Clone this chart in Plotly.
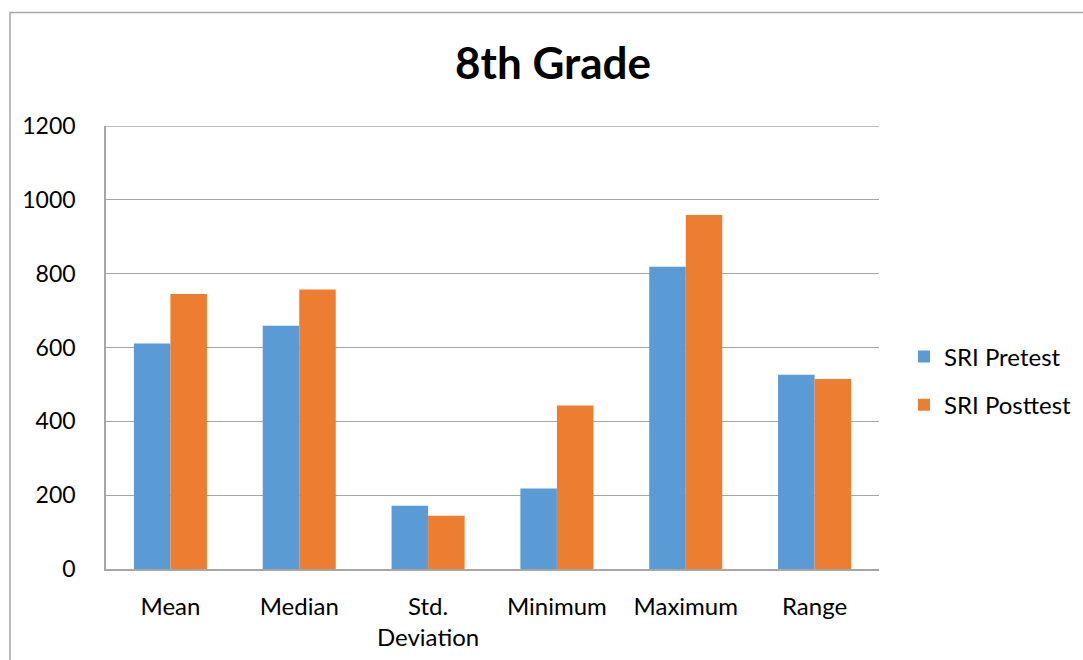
import plotly.graph_objects as go

# Summary statistics for 8th grade SRI scores
categories = ["Mean", "Median", "Std.<br>Deviation", "Minimum", "Maximum", "Range"]
pretest = [611, 659, 171, 218, 819, 526]
posttest = [745, 757, 144, 443, 959, 515]
y_ticks = [0, 200, 400, 600, 800, 1000, 1200]

FONT = "Lato, 'Open Sans', sans-serif"
BLUE = "#5B9BD5"
ORANGE = "#ED7D31"
GRID = "#A6A6A6"

fig = go.Figure()
fig.add_trace(go.Bar(name="SRI Pretest", x=categories, y=pretest,
                     marker=dict(color=BLUE, line=dict(width=0)),
                     legendgroup="pre"))
fig.add_trace(go.Bar(name="SRI Posttest", x=categories, y=posttest,
                     marker=dict(color=ORANGE, line=dict(width=0)),
                     legendgroup="post"))

W, H = 1083, 660
L, R, T, B = 106, 204, 126, 91
pw, ph = W - L - R, H - T - B

def px_x(px):
    return (px - L) / pw

def px_y(py):
    return (H - B - py) / ph

fig.update_layout(
    width=W, height=H,
    margin=dict(l=L, r=R, t=T, b=B, autoexpand=False),
    paper_bgcolor="white", plot_bgcolor="white",
    font=dict(family=FONT, size=24, color="#000000"),
    title=dict(text="<b>8th Grade</b>", x=553 / W, xanchor="center",
               y=1 - 64 / H, yanchor="middle",
               font=dict(family=FONT, size=44, color="#000000")),
    barmode="group", bargap=0.433, bargroupgap=0,
    legend=dict(x=px_x(904), xanchor="left", y=px_y(381), yanchor="middle",
                font=dict(family=FONT, size=24, color="#000000"),
                traceorder="grouped", tracegroupgap=14,
                itemwidth=30, bgcolor="rgba(0,0,0,0)"),
    xaxis=dict(showgrid=False, showline=True, linecolor=GRID, linewidth=1.5,
               ticks="outside", ticklen=15, tickcolor="rgba(0,0,0,0)",
               tickfont=dict(family=FONT, size=24, color="#000000")),
    yaxis=dict(range=[0, 1200], tickvals=y_ticks, showgrid=True,
               gridcolor=GRID, gridwidth=1.3, zeroline=False,
               showline=True, linecolor=GRID, linewidth=1.5,
               ticks="outside", ticklen=24, tickcolor="rgba(0,0,0,0)",
               tickfont=dict(family=FONT, size=23, color="#000000")),
    shapes=[
        # outer chart border
        dict(type="rect", xref="paper", yref="paper",
             x0=px_x(10), x1=px_x(1100), y0=px_y(700), y1=px_y(12.5),
             line=dict(color=GRID, width=1.5), fillcolor="rgba(0,0,0,0)",
             layer="below"),
        # gridline at the top of the value axis
        dict(type="line", xref="paper", yref="y",
             x0=0, x1=1, y0=y_ticks[-1], y1=y_ticks[-1],
             line=dict(color=GRID, width=1.3), layer="below"),
    ],
)

fig.write_html("out.html")
